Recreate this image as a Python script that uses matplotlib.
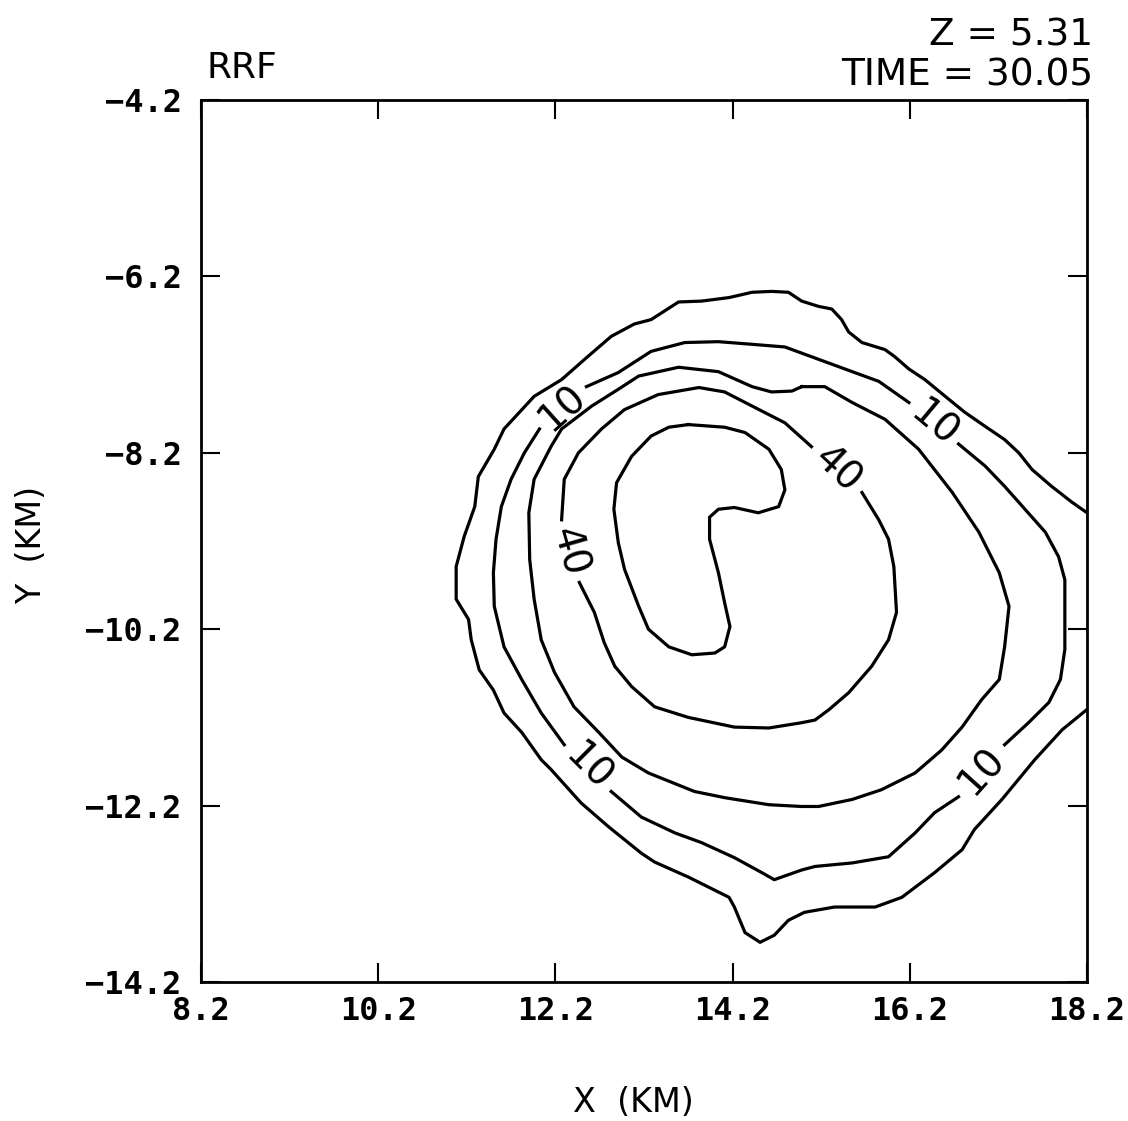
import matplotlib
matplotlib.use("Agg")
import matplotlib.pyplot as plt

# ---- contour traces (km) ----
# outermost contour, leaves the box through the right edge twice
c_outer_x = [18.2, 18.03, 17.80, 17.58, 17.43, 17.27, 17.05, 16.82, 16.60, 16.37, 16.19, 16.03,
             15.92, 15.66, 15.51, 15.43, 15.32, 15.17, 14.98, 14.83, 14.64, 14.42, 14.16, 13.85,
             13.59, 13.28, 13.09, 12.83, 12.53, 12.27, 11.96, 11.62, 11.51, 11.33, 11.29, 11.17,
             11.08, 11.08, 11.22, 11.25, 11.34, 11.50, 11.62, 11.82, 12.04, 12.15, 12.49, 12.80,
             13.17, 13.32, 13.70, 14.16, 14.22, 14.34, 14.51, 14.67, 14.83, 15.01, 15.35, 15.81,
             16.11, 16.48, 16.79, 16.93, 17.24, 17.61, 17.92, 18.2]
c_outer_y = [-8.88, -8.76, -8.58, -8.39, -8.20, -8.05, -7.90, -7.74, -7.56, -7.37, -7.25, -7.11,
             -7.03, -6.95, -6.83, -6.69, -6.57, -6.54, -6.48, -6.38, -6.37, -6.38, -6.44, -6.48,
             -6.49, -6.69, -6.74, -6.88, -7.14, -7.37, -7.56, -7.93, -8.16, -8.47, -8.81, -9.15,
             -9.49, -9.86, -10.09, -10.32, -10.66, -10.89, -11.15, -11.37, -11.68, -11.79, -12.17, -12.44,
             -12.74, -12.84, -13.01, -13.24, -13.35, -13.64, -13.75, -13.67, -13.50, -13.41, -13.35, -13.35,
             -13.24, -12.96, -12.70, -12.47, -12.13, -11.68, -11.34, -11.11]

# "10" contour, split where the labels sit
c10_segs_x = [
    [12.55, 12.91, 13.28, 13.66, 14.04, 14.42, 14.79, 15.17, 15.55, 15.85, 16.19],
    [16.75, 17.05, 17.27, 17.50, 17.73, 17.88, 17.95, 17.95, 17.90, 17.77, 17.54, 17.27],
    [16.75, 16.48, 16.26, 15.96, 15.55, 15.13, 14.98, 14.67, 14.53, 14.22, 13.85, 13.55, 13.17, 12.83],
    [12.30, 12.04, 11.82, 11.62, 11.51, 11.50, 11.53, 11.59, 11.70, 11.85, 12.02],
]
c10_segs_y = [
    [-7.45, -7.29, -7.05, -6.95, -6.94, -6.97, -7.00, -7.14, -7.28, -7.39, -7.63],
    [-8.10, -8.35, -8.58, -8.84, -9.10, -9.38, -9.64, -10.43, -10.77, -11.03, -11.26, -11.51],
    [-12.10, -12.28, -12.51, -12.78, -12.85, -12.89, -12.93, -13.04, -12.96, -12.79, -12.62, -12.51, -12.33, -12.04],
    [-11.51, -11.15, -10.77, -10.40, -9.94, -9.56, -9.18, -8.81, -8.50, -8.20, -7.93],
]
c10_lab_x = [16.47, 17.01, 12.57, 12.28]
c10_lab_y = [-7.88, -11.81, -11.77, -7.69]
c10_lab_rot = [-40, 48, -45, 42]

# middle (unlabelled) contour
c_mid_x = [14.98, 15.24, 15.55, 15.92, 16.30, 16.68, 16.98, 17.21, 17.32, 17.27, 17.21, 17.01,
           16.79, 16.56, 16.26, 15.88, 15.55, 15.17, 14.98, 14.61, 14.11, 13.77, 13.25, 12.95,
           12.69, 12.41, 12.19, 12.04, 11.96, 11.91, 11.90, 11.96, 12.15, 12.27, 12.61, 12.91,
           13.14, 13.59, 14.04, 14.42, 14.64, 14.87, 14.98]
c_mid_y = [-7.45, -7.45, -7.63, -7.82, -8.16, -8.65, -9.10, -9.56, -9.94, -10.40, -10.77, -11.00,
           -11.31, -11.57, -11.83, -12.02, -12.13, -12.21, -12.21, -12.19, -12.11, -12.04, -11.83, -11.65,
           -11.37, -11.08, -10.69, -10.32, -9.86, -9.41, -8.88, -8.50, -8.13, -7.93, -7.67, -7.48,
           -7.33, -7.23, -7.28, -7.45, -7.51, -7.50, -7.45]

# "40" contour
c40_segs_x = [
    [15.66, 15.85, 15.96, 16.02, 16.05, 15.96, 15.77, 15.51, 15.29, 15.13, 14.98, 14.61, 14.22,
     13.70, 13.32, 13.06, 12.87, 12.75, 12.64, 12.47],
    [12.27, 12.30, 12.46, 12.72, 12.98, 13.36, 13.82, 14.11, 14.42, 14.79, 15.09],
]
c40_segs_y = [
    [-8.65, -8.96, -9.18, -9.49, -10.01, -10.32, -10.62, -10.92, -11.11, -11.23, -11.26, -11.32, -11.31,
     -11.20, -11.08, -10.85, -10.62, -10.35, -10.01, -9.67],
    [-8.96, -8.50, -8.20, -7.93, -7.71, -7.54, -7.46, -7.51, -7.67, -7.86, -8.13],
]
c40_lab_x = [12.35, 15.38]
c40_lab_y = [-9.32, -8.39]
c40_lab_rot = [-74, -43]

# inner hook-shaped contour
c_core_x = [13.70, 14.11, 14.34, 14.61, 14.75, 14.79, 14.72, 14.49, 14.22, 14.04, 13.94, 13.94,
            14.04, 14.11, 14.17, 14.11, 14.00, 13.74, 13.48, 13.25, 13.14, 12.98, 12.91, 12.86,
            12.89, 13.06, 13.28, 13.48, 13.70]
c_core_y = [-7.88, -7.91, -7.97, -8.16, -8.39, -8.62, -8.81, -8.88, -8.82, -8.84, -8.93, -9.18,
            -9.56, -9.90, -10.17, -10.40, -10.47, -10.49, -10.40, -10.20, -9.94, -9.52, -9.22, -8.84,
            -8.54, -8.24, -8.01, -7.91, -7.88]

x_ticks = [8.2, 10.2, 12.2, 14.2, 16.2, 18.2]
y_ticks = [-14.2, -12.2, -10.2, -8.2, -6.2, -4.2]
x_ticklabels = ["8.2", "10.2", "12.2", "14.2", "16.2", "18.2"]
y_ticklabels = ["\u221214.2", "\u221212.2", "\u221210.2", "\u22128.2", "\u22126.2", "\u22124.2"]

W, H = 1128, 1121
fig = plt.figure(figsize=(W / 100, H / 100), dpi=100)
ax = fig.add_axes([201 / W, 1 - 982 / H, 886 / W, 882 / H])

lw = 2.3
ax.plot(c_outer_x, c_outer_y, color="black", lw=lw)
ax.plot(c_mid_x, c_mid_y, color="black", lw=lw)
ax.plot(c_core_x, c_core_y, color="black", lw=lw)
for xs, ys in zip(c10_segs_x, c10_segs_y):
    ax.plot(xs, ys, color="black", lw=lw)
for xs, ys in zip(c40_segs_x, c40_segs_y):
    ax.plot(xs, ys, color="black", lw=lw)

# contour labels
for x, y, r in zip(c10_lab_x, c10_lab_y, c10_lab_rot):
    ax.text(x, y, "10", rotation=r, rotation_mode="anchor", ha="center", va="center",
            fontsize=28, family="DejaVu Sans")
for x, y, r in zip(c40_lab_x, c40_lab_y, c40_lab_rot):
    ax.text(x, y, "40", rotation=r, rotation_mode="anchor", ha="center", va="center",
            fontsize=28, family="DejaVu Sans")

ax.set_xlim(8.2, 18.2)
ax.set_ylim(-14.2, -4.2)
ax.set_xticks(x_ticks)
ax.set_yticks(y_ticks)
ax.set_xticklabels(x_ticklabels, family="DejaVu Sans Mono", weight="bold", fontsize=23)
ax.set_yticklabels(y_ticklabels, family="DejaVu Sans Mono", weight="bold", fontsize=23)
ax.tick_params(direction="in", length=14, width=1.5, top=True, right=True)
ax.tick_params(axis="x", pad=10)
ax.tick_params(axis="y", pad=14)
for sp in ax.spines.values():
    sp.set_linewidth(2.0)

# titles and axis labels
fig.text(207 / W, 1 - 68 / H, "RRF", ha="left", va="center", fontsize=26)
fig.text(1093 / W, 1 - 35 / H, "Z = 5.31", ha="right", va="center", fontsize=27)
fig.text(1093 / W, 1 - 75 / H, "TIME = 30.05", ha="right", va="center", fontsize=27)
fig.text(633 / W, 1 - 1103 / H, "X  (KM)", ha="center", va="center", fontsize=24)
fig.text(32 / W, 1 - 545 / H, "Y  (KM)", ha="center", va="center", rotation=90, fontsize=24)

fig.savefig("out.png", dpi=100)
